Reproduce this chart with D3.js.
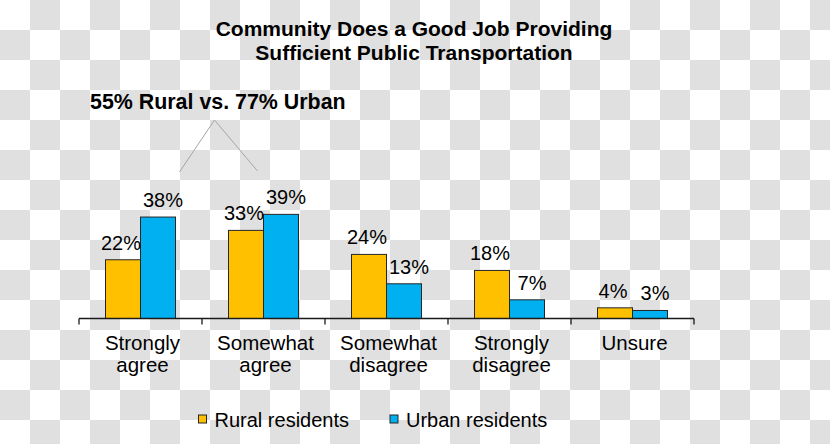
<!DOCTYPE html>
<html>
<head>
<meta charset="utf-8">
<script src="https://cdn.jsdelivr.net/npm/d3@7/dist/d3.min.js"></script>
<style>
  html, body { margin: 0; padding: 0; background: #fff; }
  svg { display: block; font-family: "Liberation Sans", Arial, sans-serif; }
</style>
</head>
<body>
<svg id="chart" width="830" height="444"></svg>
<script>
const categories = [["Strongly", "agree"], ["Somewhat", "agree"], ["Somewhat", "disagree"], ["Strongly", "disagree"], ["Unsure"]];
const seriesNames = ["Rural residents", "Urban residents"];
const rural = [22, 33, 24, 18, 4];
const urban = [38, 39, 13, 7, 3];
const titleLines = ["Community Does a Good Job Providing", "Sufficient Public Transportation"];
const annotation = "55% Rural vs. 77% Urban";

const colors = ["#FFC000", "#00B0F0"];
const svg = d3.select("#chart");
const W = 830, H = 444;

// checkerboard background (as in the reference image)
const defs = svg.append("defs");
const pat = defs.append("pattern").attr("id", "chk").attr("patternUnits", "userSpaceOnUse")
  .attr("width", 60).attr("height", 60);
pat.append("rect").attr("width", 60).attr("height", 60).attr("fill", "#ffffff");
pat.append("rect").attr("x", 30).attr("y", 0).attr("width", 30).attr("height", 30).attr("fill", "#e0e0e0");
pat.append("rect").attr("x", 0).attr("y", 30).attr("width", 30).attr("height", 30).attr("fill", "#e0e0e0");
svg.append("rect").attr("width", W).attr("height", H).attr("fill", "url(#chk)");

const baseY = 318.5;
const keys = categories.map(c => c.join(" "));
const x = d3.scaleBand().domain(keys).range([79, 694]).paddingInner(0).paddingOuter(0);
const xs = d3.scaleBand().domain(seriesNames).range([0, 70]);
const inset = (x.bandwidth() - 70) / 2;
const y = d3.scaleLinear().domain([0, 40]).range([baseY, baseY - 40 * 2.67]);

const data = [];
keys.forEach((k, i) => {
  data.push({ cat: k, s: seriesNames[0], v: rural[i], si: 0 });
  data.push({ cat: k, s: seriesNames[1], v: urban[i], si: 1 });
});

// bars
svg.append("g").selectAll("rect").data(data).join("rect")
  .attr("x", d => x(d.cat) + inset + xs(d.s))
  .attr("y", d => y(d.v))
  .attr("width", xs.bandwidth())
  .attr("height", d => y(0) - y(d.v))
  .attr("fill", d => colors[d.si])
  .attr("stroke", "#262626")
  .attr("stroke-width", 1);

// value labels
const dxs = [-2, 5];
svg.append("g").selectAll("text").data(data).join("text")
  .attr("x", d => x(d.cat) + inset + xs(d.s) + xs.bandwidth() / 2 + dxs[d.si])
  .attr("y", d => y(d.v) - 10)
  .attr("text-anchor", "middle")
  .attr("font-size", 20)
  .attr("fill", "#000")
  .text(d => d.v + "%");

// axis
const axisG = svg.append("g").attr("transform", `translate(0,${baseY})`);
axisG.append("line").attr("x1", x.range()[0]).attr("x2", x.range()[1])
  .attr("stroke", "#1a1a1a").attr("stroke-width", 1.3);
const tickPos = keys.map(k => x(k)).concat([x.range()[1]]);
axisG.selectAll("line.tick").data(tickPos).join("line").attr("class", "tick")
  .attr("x1", d => d).attr("x2", d => d).attr("y1", 0).attr("y2", 6)
  .attr("stroke", "#1a1a1a").attr("stroke-width", 1.3);

// category labels
const catG = svg.append("g");
categories.forEach((c, i) => {
  const cx = x(keys[i]) + x.bandwidth() / 2 + 2;
  const t = catG.append("text")
    .attr("x", cx)
    .attr("y", 350)
    .attr("text-anchor", "middle")
    .attr("font-size", 20.5)
    .attr("fill", "#000");
  c.forEach((line, j) => {
    t.append("tspan").attr("x", cx).attr("dy", j === 0 ? 0 : 22).text(line);
  });
});

// title
const tt = svg.append("text").attr("text-anchor", "middle").attr("font-size", 21)
  .attr("font-weight", "bold").attr("fill", "#000");
titleLines.forEach((l, j) => {
  tt.append("tspan").attr("x", 414).attr("y", 36 + j * 23.5).text(l);
});

// annotation
svg.append("text").attr("x", 90).attr("y", 108.5).attr("font-size", 21.4)
  .attr("font-weight", "bold").attr("fill", "#000").text(annotation);
const apex = [214.5, 120];
svg.append("polyline")
  .attr("points", [[179.5, 172], apex, [257.5, 171]].map(p => p.join(",")).join(" "))
  .attr("fill", "none").attr("stroke", "#a6a6a6").attr("stroke-width", 1);

// legend
const legX = [198.5, 390];
const leg = svg.append("g");
seriesNames.forEach((n, i) => {
  leg.append("rect").attr("x", legX[i]).attr("y", 415).attr("width", 8).attr("height", 8)
    .attr("fill", colors[i]).attr("stroke", "#262626").attr("stroke-width", 1);
  leg.append("text").attr("x", legX[i] + 16).attr("y", 427).attr("font-size", 20)
    .attr("fill", "#000").text(n);
});
</script>
</body>
</html>
